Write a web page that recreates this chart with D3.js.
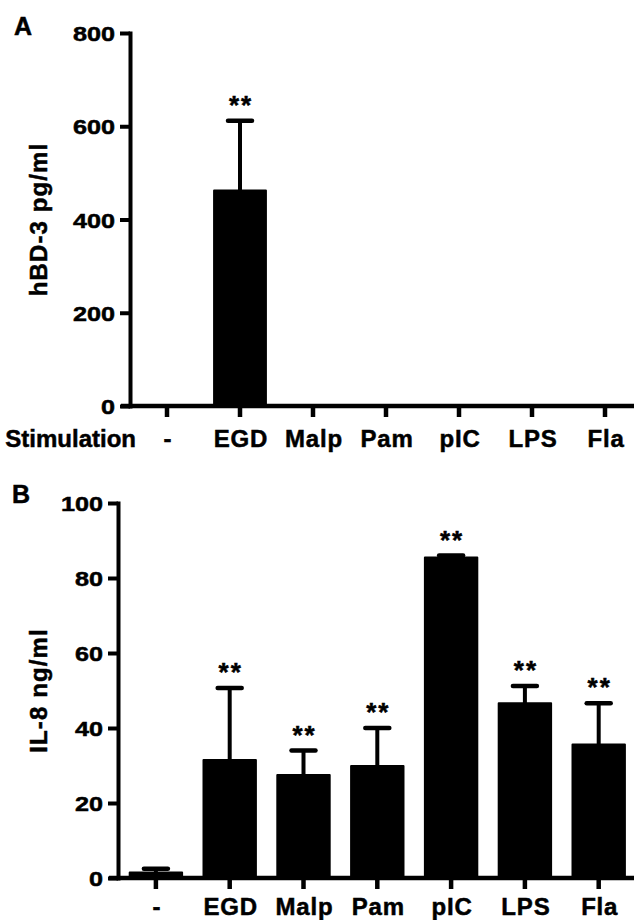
<!DOCTYPE html>
<html>
<head>
<meta charset="utf-8">
<script src="https://cdn.jsdelivr.net/npm/d3@7"></script>
<style>
  html, body { margin: 0; padding: 0; background: #fff; }
  svg { display: block; }
  text { font-family: "Liberation Sans", Arial, sans-serif; font-weight: bold; fill: #000;
         stroke: #000; stroke-width: 0.5px; }
</style>
</head>
<body>
<script>
// ---- data ----
const categories = ["-", "EGD", "Malp", "Pam", "pIC", "LPS", "Fla"];
const hbd3Mean = [0, 462, 0, 0, 0, 0, 0];
const hbd3Err  = [0, 150, 0, 0, 0, 0, 0];
const hbd3Sig  = ["", "**", "", "", "", "", ""];
const hbd3Ticks = [0, 200, 400, 600, 800];

const il8Mean = [1.5, 31.5, 27.5, 29.9, 85.5, 46.6, 35.6];
const il8Err  = [1.0, 19.2, 6.5, 10.1, 0.5, 4.6, 11.0];
const il8Sig  = ["", "**", "**", "**", "**", "**", "**"];
const il8Ticks = [0, 20, 40, 60, 80, 100];

const W = 634, H = 920;
const svg = d3.select("body").append("svg").attr("width", W).attr("height", H);

function panel(cfg) {
  const g = svg.append("g");
  const x = d3.scaleBand().domain(categories).range(cfg.xRange)
    .paddingInner(0.29).paddingOuter(0.145);
  const y = d3.scaleLinear().domain([0, cfg.max]).range([cfg.yZero, cfg.yTop]);
  const rows = categories.map((c, i) => ({c, m: cfg.mean[i], e: cfg.err[i], s: cfg.sig[i]}));

  // bars
  g.selectAll("rect.bar").data(rows).enter().append("rect")
    .attr("x", d => x(d.c))
    .attr("width", x.bandwidth())
    .attr("y", d => y(d.m))
    .attr("height", d => y(0) - y(d.m))
    .attr("fill", "#000").attr("stroke", "#000").attr("stroke-width", d => d.m > 0 ? 2 : 0)
    .attr("stroke-linejoin", "round");

  // error bars
  const eb = rows.filter(d => d.e > 0);
  g.selectAll("line.err").data(eb).enter().append("line")
    .attr("x1", d => x(d.c) + x.bandwidth() / 2).attr("x2", d => x(d.c) + x.bandwidth() / 2)
    .attr("y1", d => y(d.m)).attr("y2", d => y(d.m + d.e))
    .attr("stroke", "#000").attr("stroke-width", 4);
  g.selectAll("line.cap").data(eb).enter().append("line")
    .attr("x1", d => x(d.c) + x.bandwidth() / 2 - 12).attr("x2", d => x(d.c) + x.bandwidth() / 2 + 12)
    .attr("y1", d => y(d.m + d.e)).attr("y2", d => y(d.m + d.e))
    .attr("stroke", "#000").attr("stroke-width", 4.5).attr("stroke-linecap", "round");

  // significance
  g.selectAll("text.sig").data(rows.filter(d => d.s)).enter().append("text")
    .attr("x", d => x(d.c) + x.bandwidth() / 2 + 1)
    .attr("y", d => y(d.m + d.e) - 7)
    .attr("text-anchor", "middle")
    .style("font-size", "26px").style("letter-spacing", "2px")
    .text(d => d.s);

  // y axis
  const ya = g.append("g").attr("transform", `translate(${cfg.yAxisX},0)`)
    .call(d3.axisLeft(y).tickValues(cfg.ticks).tickSize(10).tickSizeOuter(0));
  ya.select(".domain").attr("stroke-width", 4).attr("stroke-linecap", "square");
  ya.selectAll(".tick line").attr("stroke-width", 4);
  ya.selectAll(".tick text").style("font-size", "21px")
    .attr("x", -15 / 1.2).attr("dy", "0.36em")
    .attr("transform", "scale(1.2,1)")
    .attr("font-family", null);

  // x axis
  g.append("line")
    .attr("x1", cfg.yAxisX - 9).attr("x2", W)
    .attr("y1", cfg.yZero).attr("y2", cfg.yZero)
    .attr("stroke", "#000").attr("stroke-width", 4.5);
  const xa = g.append("g").attr("transform", `translate(0,${cfg.yZero})`)
    .call(d3.axisBottom(x).tickSize(11).tickSizeOuter(0).tickFormat(() => ""));
  xa.select(".domain").remove();
  xa.selectAll(".tick line").attr("stroke-width", 4.5);
  g.selectAll("text.xl").data(categories).enter().append("text")
    .attr("x", d => x(d) + x.bandwidth() / 2 + 1)
    .attr("y", cfg.labelY)
    .attr("text-anchor", "middle")
    .style("font-size", "24px").style("letter-spacing", "0.8px")
    .text(d => d);

  // y title
  g.append("text")
    .attr("transform", `translate(${cfg.titleX},${(cfg.yTop + cfg.yZero) / 2}) rotate(-90)`)
    .attr("text-anchor", "middle")
    .style("font-size", "24px").style("letter-spacing", "1.1px")
    .text(cfg.title);

  // panel letter
  g.append("text").attr("x", cfg.letterX).attr("y", cfg.letterY)
    .style("font-size", "25px").text(cfg.letter);
  return {x, y};
}

panel({
  mean: hbd3Mean, err: hbd3Err, sig: hbd3Sig, ticks: hbd3Ticks, max: 800,
  xRange: [130.5, 641.5], yTop: 33, yZero: 406, yAxisX: 130,
  labelY: 447, title: "hBD-3 pg/ml", titleX: 47, letter: "A", letterX: 14, letterY: 35
});
svg.append("text").attr("x", 136).attr("y", 447).attr("text-anchor", "end")
  .style("font-size", "24px").text("Stimulation");

panel({
  mean: il8Mean, err: il8Err, sig: il8Sig, ticks: il8Ticks, max: 100,
  xRange: [119, 635.6], yTop: 503, yZero: 878, yAxisX: 118,
  labelY: 915, title: "IL-8 ng/ml", titleX: 47, letter: "B", letterX: 12, letterY: 503
});
</script>
</body>
</html>
